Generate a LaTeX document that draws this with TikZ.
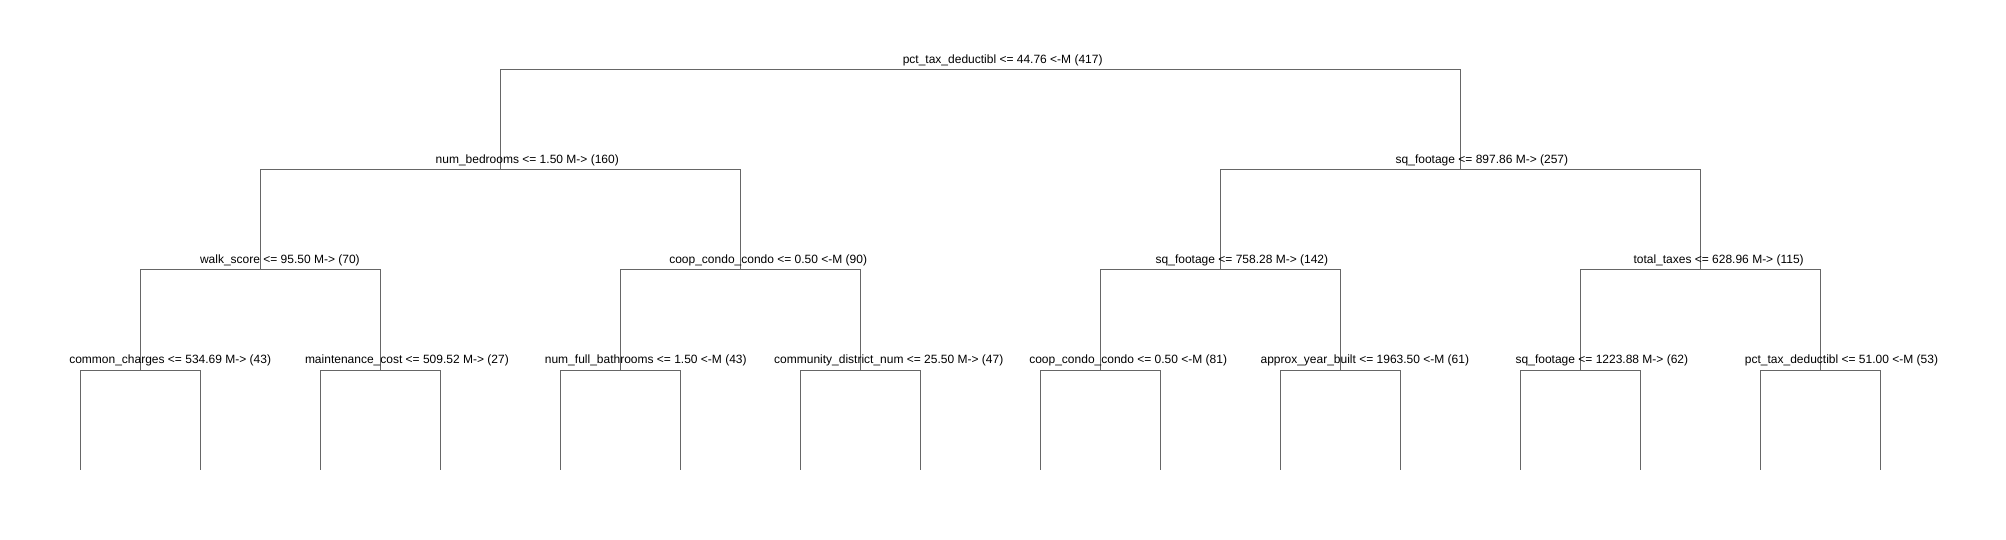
\documentclass[tikz,border=0pt]{standalone}
\usepackage{fontspec}
\setmainfont{Liberation Sans}
\definecolor{treeline}{HTML}{666666}
\begin{document}
\begin{tikzpicture}[x=1pt,y=-1pt,
  lab/.style={anchor=base west, inner sep=0pt, font=\fontsize{12}{14}\selectfont, text=black},
  edge/.style={draw=treeline, line width=1pt}]
\useasboundingbox (0,0) rectangle (2006,540);
% split points
\coordinate (n0) at (980,70);
\coordinate (n1) at (500,170);
\coordinate (n2) at (1460,170);
\coordinate (n3) at (260,270);
\coordinate (n4) at (740,270);
\coordinate (n5) at (1220,270);
\coordinate (n6) at (1700,270);
\coordinate (n7) at (140,370);
\coordinate (n8) at (380,370);
\coordinate (n9) at (620,370);
\coordinate (n10) at (860,370);
\coordinate (n11) at (1100,370);
\coordinate (n12) at (1340,370);
\coordinate (n13) at (1580,370);
\coordinate (n14) at (1820,370);
% leaf ends
\foreach \i/\x in {1/80,2/200,3/320,4/440,5/560,6/680,7/800,8/920,9/1040,10/1160,11/1280,12/1400,13/1520,14/1640,15/1760,16/1880}
  \coordinate (leaf\i) at (\x,470);
% connectors
\draw[edge] (n0) -| (n1);
\draw[edge] (n0) -| (n2);
\draw[edge] (n1) -| (n3);
\draw[edge] (n1) -| (n4);
\draw[edge] (n2) -| (n5);
\draw[edge] (n2) -| (n6);
\draw[edge] (n3) -| (n7);
\draw[edge] (n3) -| (n8);
\draw[edge] (n4) -| (n9);
\draw[edge] (n4) -| (n10);
\draw[edge] (n5) -| (n11);
\draw[edge] (n5) -| (n12);
\draw[edge] (n6) -| (n13);
\draw[edge] (n6) -| (n14);
\draw[edge] (n7) -| (leaf1);
\draw[edge] (n7) -| (leaf2);
\draw[edge] (n8) -| (leaf3);
\draw[edge] (n8) -| (leaf4);
\draw[edge] (n9) -| (leaf5);
\draw[edge] (n9) -| (leaf6);
\draw[edge] (n10) -| (leaf7);
\draw[edge] (n10) -| (leaf8);
\draw[edge] (n11) -| (leaf9);
\draw[edge] (n11) -| (leaf10);
\draw[edge] (n12) -| (leaf11);
\draw[edge] (n12) -| (leaf12);
\draw[edge] (n13) -| (leaf13);
\draw[edge] (n13) -| (leaf14);
\draw[edge] (n14) -| (leaf15);
\draw[edge] (n14) -| (leaf16);
% labels
\node[lab] (t0) at (902.6,63.5) {pct\_tax\_deductibl <= 44.76 <-M (417)};
\node[lab] (t1) at (435.5,163.5) {num\_bedrooms <= 1.50 M-> (160)};
\node[lab] (t2) at (1395.5,163.5) {sq\_footage <= 897.86 M-> (257)};
\node[lab] (t3) at (199.8,263.5) {walk\_score <= 95.50 M-> (70)};
\node[lab] (t4) at (669.1,263.5) {coop\_condo\_condo <= 0.50 <-M (90)};
\node[lab] (t5) at (1155.5,263.5) {sq\_footage <= 758.28 M-> (142)};
\node[lab] (t6) at (1633.3,263.5) {total\_taxes <= 628.96 M-> (115)};
\node[lab] (t7) at (69.1,363.5) {common\_charges <= 534.69 M-> (43)};
\node[lab] (t8) at (304.8,363.5) {maintenance\_cost <= 509.52 M-> (27)};
\node[lab] (t9) at (544.7,363.5) {num\_full\_bathrooms <= 1.50 <-M (43)};
\node[lab] (t10) at (774.0,363.5) {community\_district\_num <= 25.50 M-> (47)};
\node[lab] (t11) at (1029.1,363.5) {coop\_condo\_condo <= 0.50 <-M (81)};
\node[lab] (t12) at (1260.4,363.5) {approx\_year\_built <= 1963.50 <-M (61)};
\node[lab] (t13) at (1515.5,363.5) {sq\_footage <= 1223.88 M-> (62)};
\node[lab] (t14) at (1744.7,363.5) {pct\_tax\_deductibl <= 51.00 <-M (53)};
\end{tikzpicture}
\end{document}
